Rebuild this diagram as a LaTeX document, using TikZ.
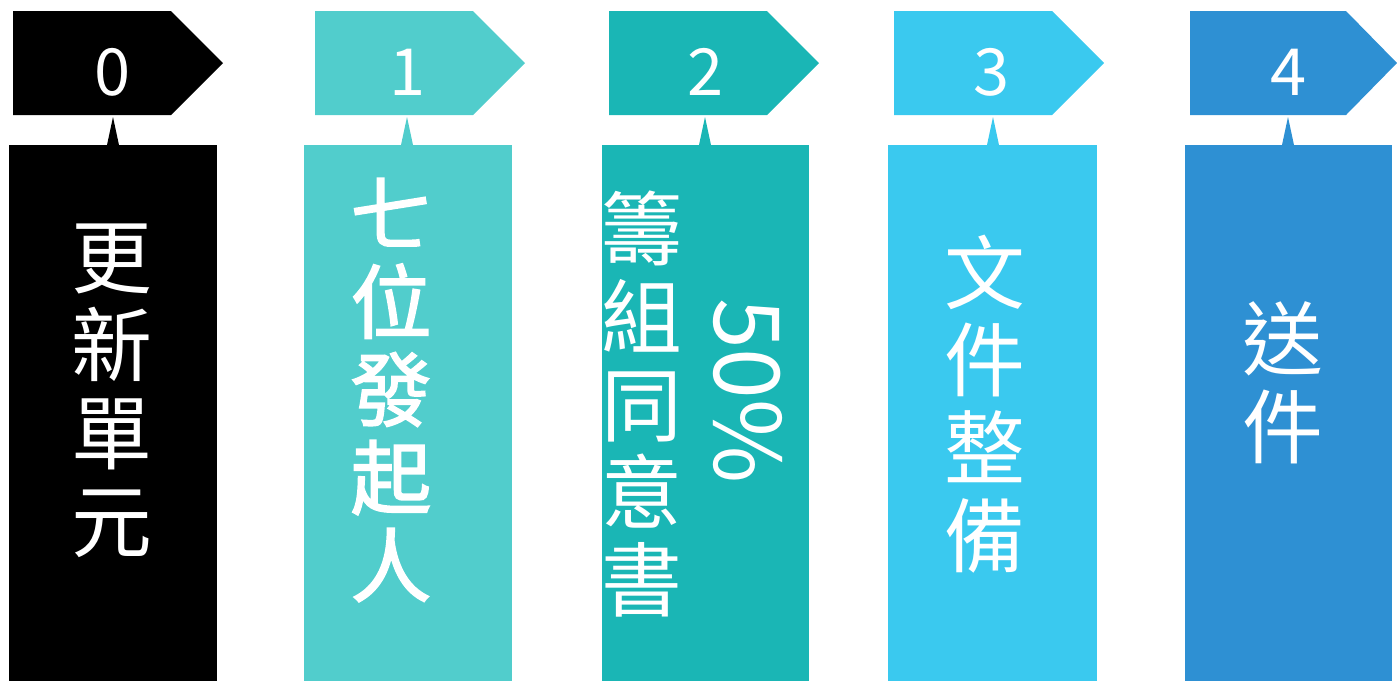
\documentclass[tikz,border=0pt]{standalone}
\usepackage{fontspec}
\newfontfamily\cjk{Noto Sans CJK TC}
\newfontfamily\cjkheavy[FakeBold=2]{Noto Sans CJK TC}
\definecolor{mint}{HTML}{51CDCC}
\definecolor{lagoon}{HTML}{1AB6B5}
\definecolor{sky}{HTML}{3AC9EF}
\definecolor{ocean}{HTML}{2E90D3}

\tikzset{
  stepnum/.style={text=white,anchor=base,font=\cjk\fontsize{37}{40}\selectfont},
  steptext/.style={text=white,align=center,font=\cjk\fontsize{46}{50}\selectfont}
}

\begin{document}
\begin{tikzpicture}[x=0.02cm,y=-0.02cm]
    \useasboundingbox (0,0) rectangle (1397,681);
    % 0
    \fill [black] (13,11) -- (171,11) -- (223,63) -- (171,115) -- (13,115) -- cycle;
    \fill [black] (107,145) -- (113,117) -- (119,145) -- cycle;
    \fill [black] (9,145) rectangle (217,681);
    \node[stepnum] (num0) at (113,95) {0};
    \node[steptext] (txt0) at (112,391) {更\\新\\單\\元};
    % 1
    \fill [mint] (315,11) -- (473,11) -- (525,63) -- (473,115) -- (315,115) -- cycle;
    \fill [mint] (401,145) -- (407,117) -- (413,145) -- cycle;
    \fill [mint] (304,145) rectangle (512,681);
    \node[stepnum] (num1) at (408,95) {1};
    \node[steptext,font=\cjkheavy\fontsize{46}{50}\selectfont] (txt1) at (391,390) {七\\位\\發\\起\\人};
    % 2
    \fill [lagoon] (609,11) -- (767,11) -- (819,63) -- (767,115) -- (609,115) -- cycle;
    \fill [lagoon] (699,145) -- (705,117) -- (711,145) -- cycle;
    \fill [lagoon] (602,145) rectangle (809,681);
    \node[stepnum] (num2) at (706,95) {2};
    \node[steptext] (txt2) at (642,404) {籌\\組\\同\\意\\書};
    \node[text=white,rotate=-90,font=\cjk\fontsize{52}{56}\selectfont] (pct2) at (748,391) {50\%};
    % 3
    \fill [sky] (894,11) -- (1052,11) -- (1104,63) -- (1052,115) -- (894,115) -- cycle;
    \fill [sky] (987,145) -- (993,117) -- (999,145) -- cycle;
    \fill [sky] (888,145) rectangle (1097,681);
    \node[stepnum] (num3) at (992,95) {3};
    \node[steptext] (txt3) at (985,404) {文\\件\\整\\備};
    % 4
    \fill [ocean] (1190,11) -- (1346,11) -- (1397,63) -- (1346,115) -- (1190,115) -- cycle;
    \fill [ocean] (1282,145) -- (1288,117) -- (1294,145) -- cycle;
    \fill [ocean] (1185,145) rectangle (1392,681);
    \node[stepnum] (num4) at (1289,95) {4};
    \node[steptext] (txt4) at (1283,383) {送\\件};
  \end{tikzpicture}
\end{document}
